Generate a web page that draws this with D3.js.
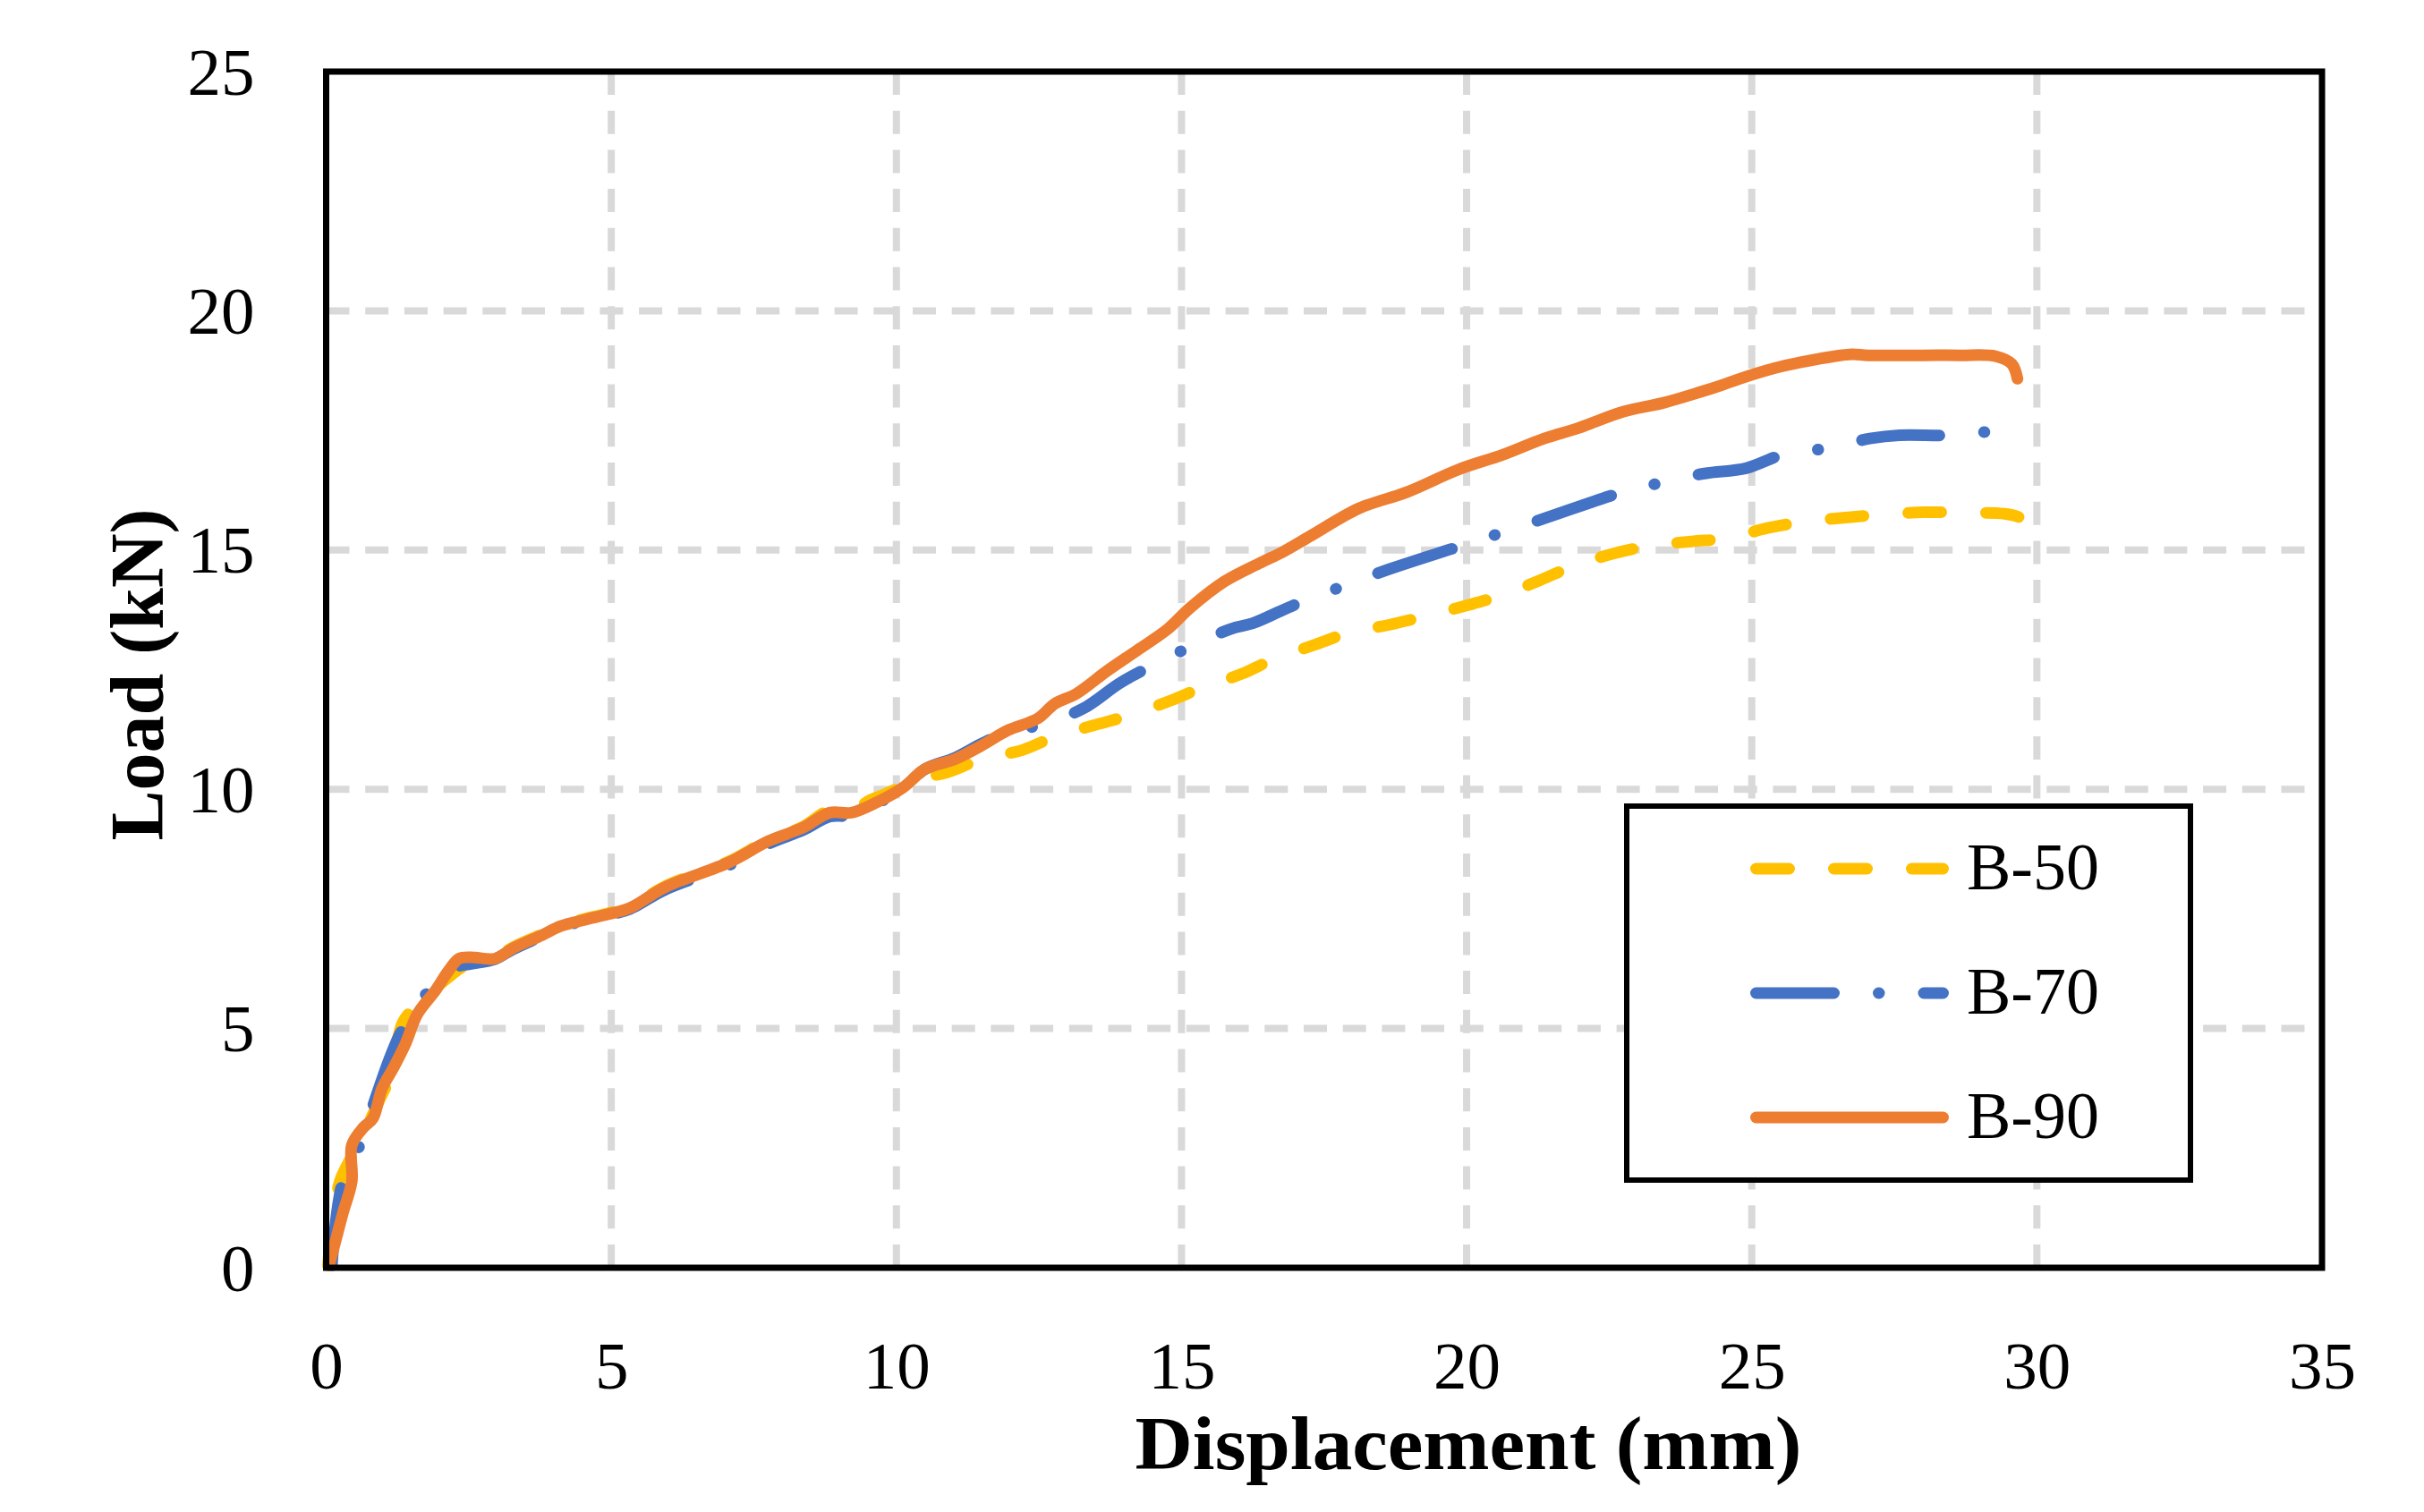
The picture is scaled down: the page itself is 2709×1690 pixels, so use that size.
<!DOCTYPE html>
<html>
<head>
<meta charset="utf-8">
<script src="https://cdn.jsdelivr.net/npm/d3@7"></script>
<style>
  body { margin: 0; background: #ffffff; }
  text { font-family: "Liberation Serif", "Times New Roman", serif; fill: #000; }
</style>
</head>
<body>
<svg id="chartSVG" width="2709" height="1690"></svg>
<script>
// axis ticks
const xTicks = [0, 5, 10, 15, 20, 25, 30, 35];
const yTicks = [0, 5, 10, 15, 20, 25];

const seriesNames = ['B-50', 'B-70', 'B-90'];

// B-50
const b50X = [0.03, 0.11, 0.24, 0.5, 0.66, 0.98, 1.13, 1.34, 1.6, 1.92, 2.33, 2.54, 2.96, 3.28, 3.8, 4.11, 4.53, 4.95, 5.33, 5.94, 7.08, 7.76, 8.37, 8.8, 9.21, 9.55, 9.9, 10.3, 10.88, 11.49, 12.21, 12.78, 13.5, 14.07, 14.8, 15.37, 16.05, 16.62, 17.36, 17.96, 18.65, 19.31, 20.0, 20.63, 21.29, 21.9, 22.59, 23.22, 23.94, 24.58, 25.28, 25.91, 26.65, 27.28, 28.02, 28.65, 29.42, 29.7, 29.91];
const b50Y = [0.05, 0.88, 1.81, 2.44, 2.81, 3.62, 4.0, 5.12, 5.5, 5.85, 6.24, 6.4, 6.48, 6.7, 6.98, 7.16, 7.29, 7.41, 7.54, 7.97, 8.5, 8.94, 9.22, 9.55, 9.55, 9.78, 9.95, 10.2, 10.35, 10.63, 10.82, 11.1, 11.35, 11.54, 11.85, 12.13, 12.41, 12.72, 13.03, 13.28, 13.44, 13.63, 13.84, 14.06, 14.37, 14.68, 14.93, 15.09, 15.18, 15.25, 15.46, 15.59, 15.68, 15.74, 15.79, 15.78, 15.76, 15.68, 15.46];

// B-70
const b70X = [0.1, 0.29, 0.61, 0.87, 1.13, 1.34, 1.81, 2.33, 2.54, 2.96, 3.28, 3.8, 4.11, 4.53, 4.95, 5.33, 5.94, 7.08, 7.76, 8.37, 8.83, 9.21, 9.66, 10.12, 10.5, 11.03, 11.49, 11.95, 12.55, 13.28, 13.92, 14.46, 15.14, 15.86, 16.25, 16.73, 17.15, 17.87, 18.62, 19.91, 20.66, 21.41, 22.71, 23.46, 24.17, 24.9, 25.56, 26.33, 27.07, 27.59, 28.5, 29.24];
const b70Y = [0.05, 1.81, 2.62, 3.56, 4.43, 4.99, 5.8, 6.3, 6.35, 6.45, 6.66, 6.94, 7.12, 7.25, 7.37, 7.5, 7.9, 8.42, 8.86, 9.15, 9.43, 9.45, 9.7, 10.02, 10.42, 10.66, 10.95, 11.2, 11.35, 11.69, 12.22, 12.57, 12.97, 13.35, 13.47, 13.72, 13.94, 14.26, 14.59, 15.09, 15.38, 15.68, 16.2, 16.42, 16.6, 16.71, 17.0, 17.13, 17.33, 17.4, 17.4, 17.49];

// B-90
const b90X = [0.05, 0.09, 0.29, 0.45, 0.45, 0.66, 0.82, 0.98, 1.18, 1.39, 1.6, 1.92, 2.13, 2.33, 2.54, 2.96, 3.28, 3.8, 4.11, 4.53, 4.95, 5.33, 5.94, 7.08, 7.76, 8.37, 8.83, 9.21, 9.66, 10.12, 10.5, 11.03, 11.49, 11.95, 12.48, 12.78, 13.16, 13.69, 14.23, 14.76, 15.14, 15.75, 16.36, 16.79, 17.27, 18.11, 18.95, 19.85, 20.63, 21.36, 21.96, 22.74, 23.46, 24.09, 24.48, 24.79, 25.4, 25.84, 26.4, 26.76, 27.04, 28.0, 28.65, 29.28, 29.56, 29.66];
const b90Y = [0.05, 0.22, 1.13, 1.81, 2.56, 2.94, 3.12, 3.75, 4.18, 4.68, 5.3, 5.8, 6.18, 6.46, 6.49, 6.46, 6.68, 6.96, 7.14, 7.27, 7.39, 7.52, 7.95, 8.48, 8.92, 9.2, 9.51, 9.51, 9.73, 10.04, 10.42, 10.63, 10.91, 11.23, 11.48, 11.79, 12.0, 12.47, 12.91, 13.35, 13.78, 14.34, 14.72, 14.97, 15.3, 15.87, 16.21, 16.68, 16.99, 17.33, 17.55, 17.89, 18.08, 18.3, 18.45, 18.58, 18.8, 18.92, 19.04, 19.09, 19.07, 19.07, 19.07, 19.05, 18.89, 18.58];

let svg = d3.select('svg#chartSVG');

let plotLeft = 364.5, plotRight = 2595, plotTop = 80, plotBottom = 1417;

let xScale = d3.scaleLinear().domain([0, 35]).range([plotLeft, plotRight]);
let yScale = d3.scaleLinear().domain([0, 25]).range([plotBottom, plotTop]);

// gridlines (vertical ones drawn bottom-up so dashes start at the axis)
svg.append('g').selectAll('line')
  .data(xTicks.slice(1, -1))
  .enter().append('line')
  .attr('x1', d => xScale(d)).attr('x2', d => xScale(d))
  .attr('y1', plotBottom).attr('y2', plotTop)
  .attr('stroke', '#d9d9d9').attr('stroke-width', 8)
  .attr('stroke-dasharray', '26 17.7');

svg.append('g').selectAll('line')
  .data(yTicks.slice(1, -1))
  .enter().append('line')
  .attr('x1', plotLeft).attr('x2', plotRight)
  .attr('y1', d => yScale(d)).attr('y2', d => yScale(d))
  .attr('stroke', '#d9d9d9').attr('stroke-width', 8)
  .attr('stroke-dasharray', '26 17.7');

// axes (labels only)
let gX = svg.append('g')
  .attr('transform', `translate(0, ${plotBottom})`)
  .call(d3.axisBottom(xScale).tickValues(xTicks).tickSize(0));
gX.select('.domain').remove();
gX.selectAll('text')
  .attr('y', 135).attr('dy', null)
  .style('font-size', '75px')
  .style('font-family', '"Liberation Serif", serif');

let gY = svg.append('g')
  .attr('transform', `translate(${plotLeft}, 0)`)
  .call(d3.axisLeft(yScale).tickValues(yTicks).tickSize(0));
gY.select('.domain').remove();
gY.selectAll('text')
  .attr('x', -80).attr('y', 25).attr('dy', null)
  .style('font-size', '75px')
  .style('font-family', '"Liberation Serif", serif');

// series
let series = [
  { name: seriesNames[0], xs: b50X, ys: b50Y, color: '#FFC000', dash: '37 50' },
  { name: seriesNames[1], xs: b70X, ys: b70Y, color: '#4472C4', dash: '87 50 0.5 50' },
  { name: seriesNames[2], xs: b90X, ys: b90Y, color: '#ED7D31', dash: null }
];

let lineGenerator = d3.line()
  .x(d => xScale(d[0]))
  .y(d => yScale(d[1]))
  .curve(d3.curveCatmullRom.alpha(0.5));

series.forEach(s => {
  let pts = s.xs.map((x, i) => [x, s.ys[i]]);
  svg.append('path')
    .attr('d', lineGenerator(pts))
    .attr('fill', 'none')
    .attr('stroke', s.color)
    .attr('stroke-width', 13)
    .attr('stroke-linecap', 'round')
    .attr('stroke-linejoin', 'round')
    .attr('stroke-dasharray', s.dash);
});

// plot border
svg.append('rect')
  .attr('x', plotLeft).attr('y', plotTop)
  .attr('width', plotRight - plotLeft).attr('height', plotBottom - plotTop)
  .attr('fill', 'none').attr('stroke', '#000').attr('stroke-width', 7);

// legend
let legend = svg.append('g');
legend.append('rect')
  .attr('x', 1818).attr('y', 901)
  .attr('width', 630).attr('height', 418)
  .attr('fill', '#fff').attr('stroke', '#000').attr('stroke-width', 6);

let legendY = d3.scalePoint().domain(seriesNames).range([971, 1249]);

series.forEach(s => {
  legend.append('line')
    .attr('x1', 1962.5).attr('x2', 2171.5)
    .attr('y1', legendY(s.name)).attr('y2', legendY(s.name))
    .attr('stroke', s.color).attr('stroke-width', 13)
    .attr('stroke-linecap', 'round')
    .attr('stroke-dasharray', s.dash);
  legend.append('text')
    .attr('x', 2198).attr('y', legendY(s.name) + 23)
    .style('font-size', '74px')
    .text(s.name);
});

// axis titles
svg.append('text')
  .attr('x', 1641).attr('y', 1642)
  .attr('text-anchor', 'middle')
  .attr('textLength', 745).attr('lengthAdjust', 'spacingAndGlyphs')
  .style('font-size', '84px').style('font-weight', 'bold')
  .text('Displacement (mm)');

svg.append('text')
  .attr('transform', 'translate(182, 754) rotate(-90)')
  .attr('text-anchor', 'middle')
  .style('font-size', '84px').style('font-weight', 'bold')
  .text('Load (kN)');
</script>
</body>
</html>
